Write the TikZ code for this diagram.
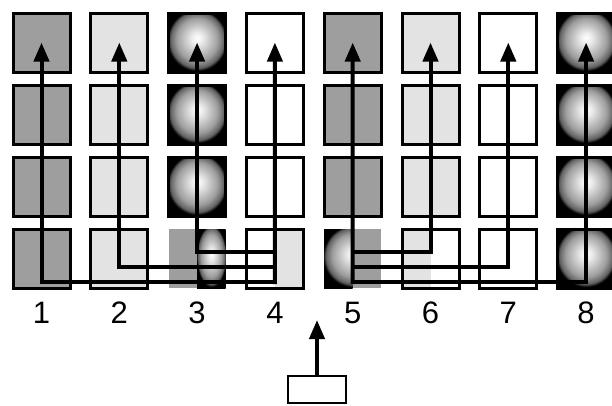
\documentclass[tikz,border=0pt]{standalone}
\usepackage{fontspec}
\setmainfont{Liberation Sans}
\usetikzlibrary{arrows.meta,positioning}
\definecolor{cellmid}{gray}{0.62}
\definecolor{celllight}{gray}{0.89}
\pgfdeclareradialshading{sphere}{\pgfpoint{0bp}{4bp}}{color(0bp)=(white); color(5bp)=(white!92!black); color(18bp)=(black!38); color(23.5bp)=(black!62); color(26bp)=(black); color(50bp)=(black)}

\begin{document}
\begin{tikzpicture}[x=1pt, y=-1pt,
  cell/.style={draw, line width=3pt, minimum width=57pt, minimum height=59pt, inner sep=0pt, fill=white},
  slot/.style={minimum width=57pt, minimum height=59pt, inner sep=0pt, outer sep=0pt},
  ball/.style={shade, shading=sphere},
  flow/.style={line width=4pt, line cap=rect, -{Triangle[length=19pt, width=15pt]}},
  num/.style={font=\fontsize{31}{36}\selectfont}
]
\useasboundingbox (0,0) rectangle (612,405);

% rows 1 to 3
\foreach \c/\tone in {1/cellmid,2/celllight,4/white,5/cellmid,6/celllight,7/white}
  \foreach \r in {1,2,3}
    \node[cell, fill=\tone] (c\c r\r) at ({41.5+77.8*(\c-1)},{42.5+72*(\r-1)}) {};
\foreach \c in {3,8}
  \foreach \r in {1,2,3}
    \node[cell, ball] (c\c r\r) at ({41.5+77.8*(\c-1)},{42.5+72*(\r-1)}) {};

% row 4
\node[cell, fill=cellmid] (c1r4) at (41.5,258.5) {};
\node[cell, fill=celllight] (c2r4) at (119.3,258.5) {};
\node[slot, path picture={
  \fill[cellmid] (path picture bounding box.north west) rectangle (path picture bounding box.south);
  \shade[shading=sphere] (path picture bounding box.north) rectangle (path picture bounding box.south east);}]
  (c3r4) at (197.1,258.5) {};
\node[cell, path picture={
  \fill[celllight] (path picture bounding box.north) rectangle (path picture bounding box.south east);}]
  (c4r4) at (274.9,258.5) {};
\node[slot, path picture={
  \shade[shading=sphere] (path picture bounding box.north west) rectangle (path picture bounding box.south);
  \fill[cellmid] (path picture bounding box.north) rectangle (path picture bounding box.south east);}]
  (c5r4) at (352.7,258.5) {};
\node[cell, path picture={
  \fill[celllight] (path picture bounding box.north west) rectangle (path picture bounding box.south);}]
  (c6r4) at (430.5,258.5) {};
\node[cell] (c7r4) at (508.3,258.5) {};
\node[cell, ball] (c8r4) at (586.1,258.5) {};

% junction levels
\coordinate (lvlA) at (0,252);
\coordinate (lvlB) at (0,267);
\coordinate (lvlC) at (0,282);
\coordinate (lbl) at (0,313);

\draw[flow] (c4r4 |- lvlC) -| (c1r1.center);
\draw[flow] (c4r4 |- lvlB) -| (c2r1.center);
\draw[flow] (c4r4 |- lvlA) -| (c3r1.center);
\draw[flow] (c4r4 |- lvlC) -- (c4r1.center);
\draw[flow] (c5r4 |- lvlC) -- (c5r1.center);
\draw[flow] (c5r4 |- lvlA) -| (c6r1.center);
\draw[flow] (c5r4 |- lvlB) -| (c7r1.center);
\draw[flow] (c5r4 |- lvlC) -| (c8r1.center);

\foreach \c in {1,...,8}
  \node[num] (n\c) at (c\c r4 |- lbl) {\c};

\node[draw, line width=2.5pt, minimum width=58pt, minimum height=27pt] (src) at (317,389.5) {};
\coordinate (srctip) at (317,320);
\draw[flow] (src) -- (srctip);
\end{tikzpicture}
\end{document}
